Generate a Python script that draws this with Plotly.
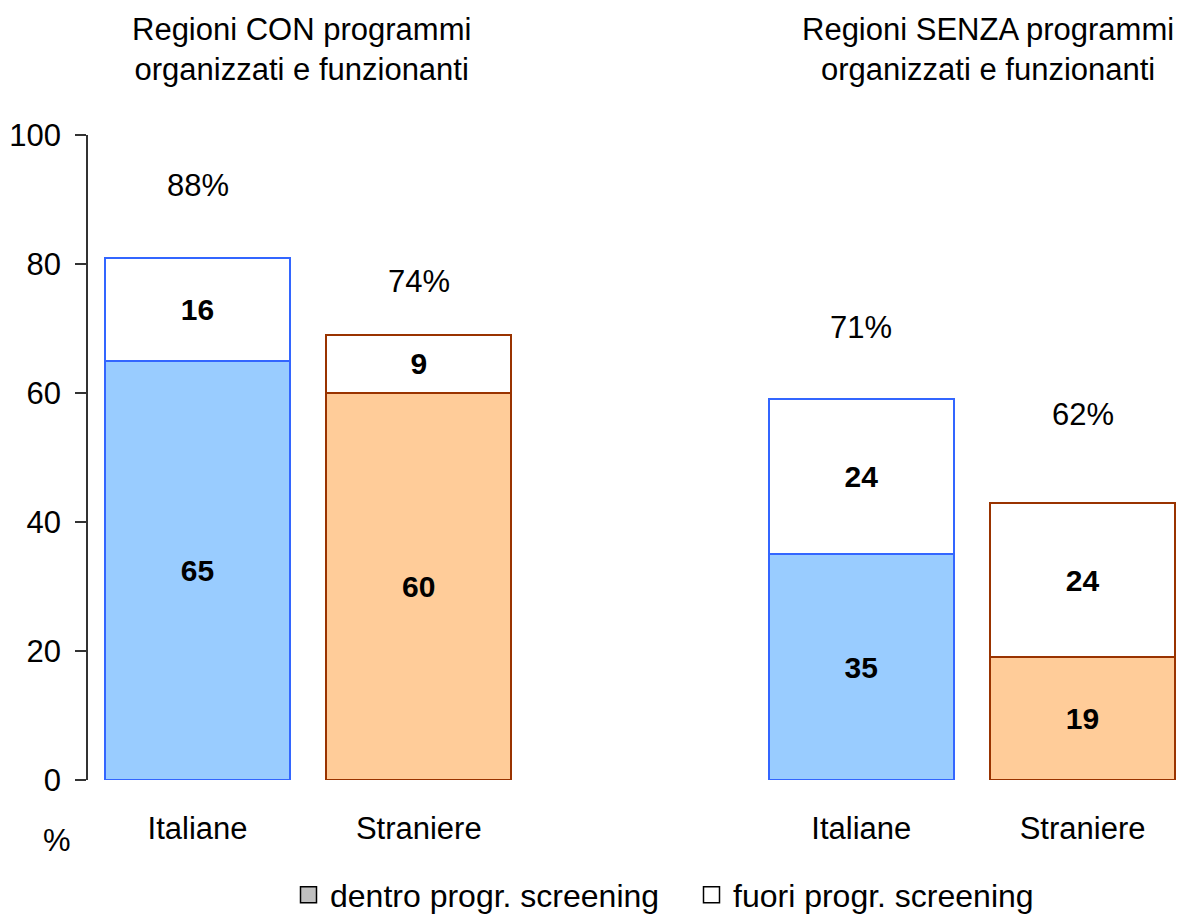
import plotly.graph_objects as go

# ------------------------------------------------------------------
# Data
# ------------------------------------------------------------------
groups = ["Regioni CON programmi<br>organizzati e funzionanti",
          "Regioni SENZA programmi<br>organizzati e funzionanti"]
categories = ["Italiane", "Straniere", "Italiane", "Straniere"]
dentro = [65, 60, 35, 19]
fuori = [16, 9, 24, 24]
pct_labels = ["88%", "74%", "71%", "62%"]
legend_names = ["dentro progr. screening", "fuori progr. screening"]

# ------------------------------------------------------------------
# Styling
# ------------------------------------------------------------------
FONT = "Liberation Sans, Arial, sans-serif"
fill_colors = ["#99CCFF", "#FFCC99", "#99CCFF", "#FFCC99"]
line_colors = ["#3366FF", "#993300", "#3366FF", "#993300"]
pct_shift = [72, 53, 72, 88]  # pixel offset of the % label above each bar

# figure geometry (page body adds an 8px margin)
W, H = 1175, 907
mt, mb, ml, mr = 127, 135, 80, 0
ph = H - mt - mb
pw = W - ml - mr

# positions: two groups of two bars with an empty slot between
xpos = [g * 3 + i for g in range(2) for i in range(2)]
totals = [d + f for d, f in zip(dentro, fuori)]

fig = go.Figure()

fig.add_trace(go.Bar(
    x=xpos, y=dentro, width=0.836, name=legend_names[0],
    marker=dict(color=fill_colors, line=dict(color=line_colors, width=2)),
    text=[str(v) for v in dentro], textposition="inside",
    insidetextanchor="middle", textangle=0,
    textfont=dict(family=FONT, size=30, color="black", weight="bold"),
    showlegend=False, hoverinfo="skip",
))
fig.add_trace(go.Bar(
    x=xpos, y=fuori, width=0.836, name=legend_names[1],
    marker=dict(color="white", line=dict(color=line_colors, width=2)),
    text=[str(v) for v in fuori], textposition="inside",
    insidetextanchor="middle", textangle=0,
    textfont=dict(family=FONT, size=30, color="black", weight="bold"),
    showlegend=False, hoverinfo="skip",
))

# legend-only entries
for name, col in zip(legend_names, ["#C0C0C0", "white"]):
    fig.add_trace(go.Scatter(
        x=[None], y=[None], mode="markers", name=name,
        marker=dict(symbol="square", size=16, color=col,
                    line=dict(color="black", width=1.5)),
    ))

for x, t, lab, s in zip(xpos, totals, pct_labels, pct_shift):
    fig.add_annotation(x=x, y=t, text=lab, showarrow=False, yshift=s,
                       font=dict(family=FONT, size=31, color="black"))

for gx, title in zip([0.472, 3.573], groups):
    fig.add_annotation(x=gx, xref="x", y=(H - mb - 42) / ph, yref="paper",
                       xanchor="center", yanchor="middle", text=title,
                       showarrow=False,
                       font=dict(family=FONT, size=31, color="black"))

fig.add_annotation(x=(49 - ml) / pw, xref="paper", y=(H - mb - 832) / ph,
                   yref="paper", xanchor="center", yanchor="middle",
                   text="%", showarrow=False,
                   font=dict(family=FONT, size=31, color="black"))

fig.update_layout(
    width=W, height=H,
    margin=dict(t=mt, b=mb, l=ml, r=mr, autoexpand=False),
    plot_bgcolor="white", paper_bgcolor="white",
    barmode="stack",
    font=dict(family=FONT, size=31, color="black"),
    xaxis=dict(
        range=[-0.495, 4.454], tickvals=xpos, ticktext=categories,
        showline=False, showgrid=False, zeroline=False, ticks="",
        tickfont=dict(size=31), ticklabelstandoff=27, automargin=False,
    ),
    yaxis=dict(
        range=[0, 100], tickvals=[0, 20, 40, 60, 80, 100],
        showline=True, linecolor="#333333", linewidth=1.5,
        ticks="outside", ticklen=11, tickcolor="#333333", tickwidth=1.5,
        showgrid=False, zeroline=False, automargin=False,
        tickfont=dict(size=31), ticklabelstandoff=8,
    ),
    legend=dict(
        orientation="h", traceorder="normal",
        xref="container", x=279 / W, xanchor="left",
        yref="container", y=1 - 887 / H, yanchor="middle",
        font=dict(size=32), itemwidth=33, entrywidth=355,
    ),
)

fig.write_html("out.html")
